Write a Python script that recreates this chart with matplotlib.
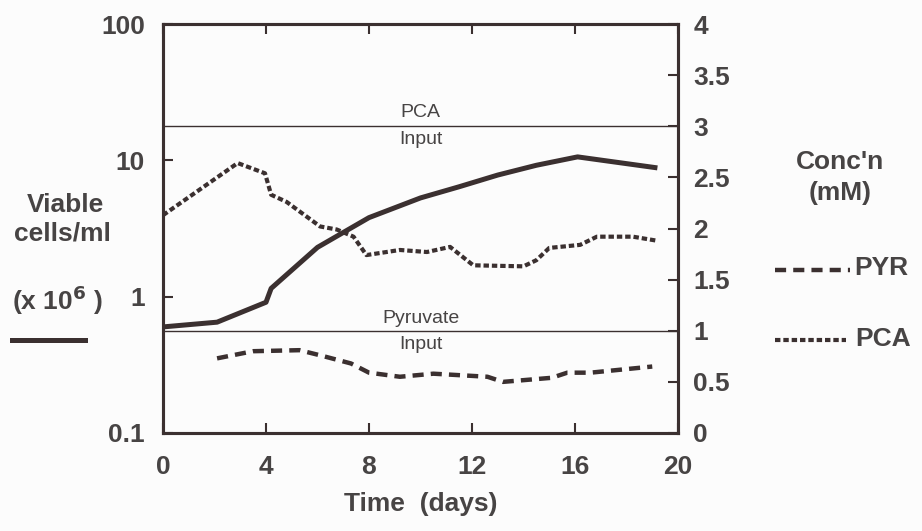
import matplotlib.pyplot as plt
from matplotlib.lines import Line2D

plt.rcParams['font.family'] = ['Liberation Sans', 'DejaVu Sans']
plt.rcParams['font.weight'] = 'bold'
plt.rcParams['axes.labelweight'] = 'bold'
plt.rcParams['mathtext.default'] = 'bf'

# viable cells (x 10^6 /ml), left log axis
cell_days = [0, 2.1, 4.0, 4.2, 6.0, 8.0, 10.0, 11.5, 13.0, 14.5, 16.1, 19.2]
cell_vals = [0.60, 0.65, 0.91, 1.15, 2.3, 3.8, 5.3, 6.4, 7.8, 9.2, 10.6, 8.8]

# PCA concentration (mM), right axis
pca_days = [0, 2.9, 3.96, 4.2, 4.8, 6.1, 6.75, 7.4, 7.9, 9.2, 10.25, 11.15,
            12.05, 14.0, 14.5, 15.0, 16.2, 16.85, 18.25, 19.2]
pca_vals = [2.13, 2.64, 2.54, 2.33, 2.26, 2.02, 1.99, 1.92, 1.74, 1.79, 1.77, 1.82,
            1.64, 1.63, 1.69, 1.81, 1.84, 1.92, 1.92, 1.88]

# pyruvate concentration (mM), right axis
pyr_days = [2.1, 3.5, 5.3, 6.1, 7.3, 8.0, 9.2, 10.5, 12.6, 13.2, 15.1, 15.7, 16.6, 19.0]
pyr_vals = [0.73, 0.80, 0.81, 0.76, 0.68, 0.59, 0.55, 0.58, 0.55, 0.50, 0.54, 0.59, 0.59, 0.65]

pca_input = 3.0
pyr_input = 1.0

x_ticks = [0, 4, 8, 12, 16, 20]
left_ticks = [0.1, 1, 10, 100]
left_labels = ['0.1', '1', '10', '100']
right_ticks = [0, 0.5, 1, 1.5, 2, 2.5, 3, 3.5, 4]
right_labels = ['0', '0.5', '1', '1.5', '2', '2.5', '3', '3.5', '4']

ink = '#3b3030'
txt = '#474444'
fs = 19

fig = plt.figure(figsize=(9.22, 5.31), dpi=100)
fig.patch.set_facecolor('#fcfcfc')
ax = fig.add_axes([163 / 922, 98 / 531, 515 / 922, 409 / 531])
ax.set_facecolor('#fcfcfc')

ax.set_yscale('log')
ax.set_xlim(0, 20)
ax.set_ylim(0.1, 100)
ax.plot(cell_days, cell_vals, color=ink, lw=3.6, solid_capstyle='butt')

ax.set_xticks(x_ticks)
ax.set_xticklabels([str(t) for t in x_ticks])
ax.set_yticks(left_ticks)
ax.set_yticklabels(left_labels)
ax.yaxis.set_minor_locator(plt.NullLocator())
ax.tick_params(axis='both', direction='in', length=7, width=1.5, colors=ink,
               labelcolor=txt, labelsize=fs)
ax.tick_params(axis='x', top=True, pad=16)
ax.tick_params(axis='y', pad=13)
for s in ax.spines.values():
    s.set_linewidth(2.2)
    s.set_color(ink)

ax2 = ax.twinx()
ax2.set_ylim(0, 4)
ax2.set_yticks(right_ticks)
ax2.set_yticklabels(right_labels)
ax2.tick_params(axis='y', direction='in', length=7, width=1.5, colors=ink,
                labelcolor=txt, labelsize=fs, pad=11)
for s in ax2.spines.values():
    s.set_linewidth(2.2)
    s.set_color(ink)

ax2.axhline(pca_input, color=ink, lw=1.0)
ax2.axhline(pyr_input, color=ink, lw=1.0)
ax2.plot(pca_days, pca_vals, color=ink, lw=3.0, dashes=(1.3, 0.7))
ax2.plot(pyr_days, pyr_vals, color=ink, lw=3.2, dashes=(2.5, 1.6))

kw = dict(ha='center', fontsize=14, color=txt, fontweight='normal')
ax2.text(10, pca_input + 0.05, 'PCA', va='bottom', **kw)
ax2.text(10, pca_input - 0.05, 'Input', va='top', **kw)
ax2.text(10, pyr_input + 0.04, 'Pyruvate', va='bottom', **kw)
ax2.text(10, pyr_input - 0.05, 'Input', va='top', **kw)

ax.set_xlabel('Time  (days)', fontsize=fs, color=txt, labelpad=9)

# left side axis label
fig.text(65 / 922, 1 - 205 / 531, 'Viable', ha='center', va='center', fontsize=fs, color=txt)
fig.text(62 / 922, 1 - 234 / 531, 'cells/ml', ha='center', va='center', fontsize=fs, color=txt)
fig.text(12 / 922, 1 - 300 / 531, '(x 10$^6$ )', ha='left', va='center', fontsize=fs, color=txt)
fig.add_artist(Line2D([12 / 922, 85 / 922], [1 - 340 / 531] * 2, color=ink, lw=3.6,
                      transform=fig.transFigure))

# right side axis label
fig.text(840 / 922, 1 - 162 / 531, "Conc'n", ha='center', va='center', fontsize=fs, color=txt)
fig.text(840 / 922, 1 - 193 / 531, '(mM)', ha='center', va='center', fontsize=fs, color=txt)

# legend drawn by hand
fig.add_artist(Line2D([775 / 922, 850 / 922], [1 - 270 / 531] * 2, color=ink, lw=3.2,
                      dashes=(2.5, 1.6), transform=fig.transFigure))
fig.text(854 / 922, 1 - 268 / 531, 'PYR', ha='left', va='center', fontsize=fs, color=txt)
fig.add_artist(Line2D([775 / 922, 846 / 922], [1 - 340 / 531] * 2, color=ink, lw=3.0,
                      dashes=(1.3, 0.7), transform=fig.transFigure))
fig.text(855 / 922, 1 - 339 / 531, 'PCA', ha='left', va='center', fontsize=fs, color=txt)

fig.savefig('out.png', dpi=100, facecolor=fig.get_facecolor())
plt.close('all')
